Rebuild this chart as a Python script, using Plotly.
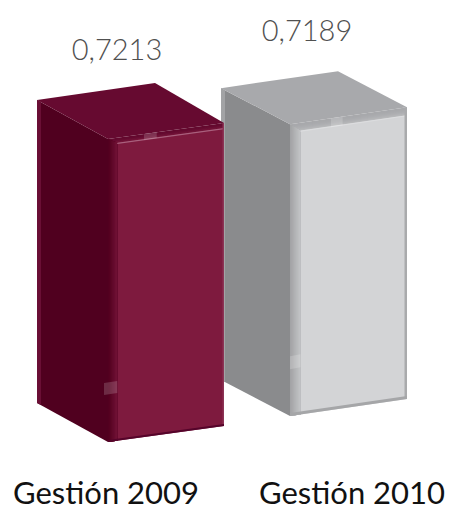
import plotly.graph_objects as go

categories = ["Gestión 2009", "Gestión 2010"]
values = [0.7213, 0.7189]
value_labels = ["0,7213", "0,7189"]

W, H, BOTTOM = 453, 512, 42
fig = go.Figure()


def mix(a, b, t):
    ca = [int(a[i:i + 2], 16) for i in (1, 3, 5)]
    cb = [int(b[i:i + 2], 16) for i in (1, 3, 5)]
    return "rgb(%d,%d,%d)" % tuple(round(x + (y - x) * t) for x, y in zip(ca, cb))


def lerp(p, q, t):
    return (p[0] + (q[0] - p[0]) * t, p[1] + (q[1] - p[1]) * t)


def poly(pts, color, opacity=1.0):
    fig.add_trace(go.Scatter(
        x=[p[0] for p in pts] + [pts[0][0]], y=[p[1] for p in pts] + [pts[0][1]],
        mode="lines", fill="toself", fillcolor=color, opacity=opacity,
        line=dict(width=0, color=color), hoverinfo="skip", showlegend=False))


def bar(value, scale, base, top_back_dy, st):
    """base: ground corners left, front, right; the height comes from the value."""
    h = value * scale
    L0, F0, R0 = base["L"], base["F"], base["R"]
    L1 = (L0[0], L0[1] - h)
    F1 = (F0[0], F0[1] - h)
    R1 = (R0[0], R0[1] - h)
    B1 = (base["Bx"], L1[1] + top_back_dy)

    bev = st["bevel"]          # width of the side bevel in px
    tb = st["top_bevel"]       # depth of the top bevel in px
    bb = st["bottom_bevel"]

    # left side and top
    poly([L1, F1, F0, L0], st["left"])
    poly([(L1[0], L1[1]), (L1[0] + 4, L1[1] + 2), (L0[0] + 4, L0[1] + 2), L0], st["left_edge"])
    poly([L1, B1, R1, F1], st["top"])

    # top bevel gradient, each band painted over the previous one
    n = 8
    for i in range(n):
        a = i / n
        poly([(F1[0], F1[1] + tb * a), (R1[0], R1[1] + tb * a),
              (R1[0], R1[1] + tb), (F1[0], F1[1] + tb)],
             mix(st["tbev_a"], st["tbev_b"], a ** 2))

    # front face below the top bevel
    poly([(F1[0], F1[1] + tb), (R1[0], R1[1] + tb), R0, F0], st["front"])

    # left bevel of the front face, painted the same way
    for i in range(n):
        a = i / n
        top_a, top_b = lerp(F1, R1, a * bev), lerp(F1, R1, bev)
        bot_a, bot_b = lerp(F0, R0, a * bev), lerp(F0, R0, bev)
        poly([(top_a[0], top_a[1] + tb * a), (top_b[0], top_b[1] + tb), bot_b, bot_a],
             mix(st["bev_a"], st["bev_b"], a))

    # bright hem and right / bottom bevel
    ha, hb = lerp(F1, R1, bev), R1
    poly([(ha[0], ha[1] + tb), (hb[0], hb[1] + tb), (hb[0], hb[1] + tb + 1.2), (ha[0], ha[1] + tb + 1.2)], st["hem"])
    poly([(R1[0] - st["rbev"], R1[1]), R1, R0, (R0[0] - st["rbev"], R0[1])], st["right_edge"])
    poly([(F0[0], F0[1] - bb), (R0[0], R0[1] - bb), R0, F0], st["bottom"])

    # translucent highlight patches
    u, w = st["patch_top"]
    pa, pb = lerp(F1, R1, u), lerp(F1, R1, u + w)
    poly([pa, pb, (pb[0], pb[1] + tb + 1), (pa[0], pa[1] + tb + 1)], "#ffffff", st["patch_op"])
    v, d = st["patch_left"]
    x0, x1 = F0[0] - st["patch_out"], F0[0] + bev * (R0[0] - F0[0])
    y_c = F0[1] - h * v
    poly([(x0, y_c), (x1, y_c - 2), (x1, y_c - 2 - d), (x0, y_c - d)], "#ffffff", st["patch_op"])
    return B1


gray = dict(left="#8a8b8d", left_edge="#a2a3a5", top="#a8a9ac", front="#d3d4d6",
            bev_a="#a3a4a6", bev_b="#c6c7c9", tbev_a="#a8a9ac", tbev_b="#bdbec0",
            hem="#dcdddf", right_edge="#a9aaac", bottom="#a5a6a8",
            bevel=0.09, top_bevel=8, bottom_bevel=3, rbev=2.5,
            patch_top=(0.35, 0.1), patch_left=(0.16, 13), patch_out=0,
            patch_op=0.18)
wine = dict(left="#50001f", left_edge="#6a0f35", top="#660a30", front="#7e1a3e",
            bev_a="#52001f", bev_b="#741438", tbev_a="#640a2f", tbev_b="#7b1a3e",
            hem="#a9607d", right_edge="#8c3355", bottom="#55042a",
            bevel=0.08, top_bevel=5, bottom_bevel=2, rbev=1.5,
            patch_top=(0.31, 0.11), patch_left=(0.155, 12), patch_out=4,
            patch_op=0.17)

top2 = bar(values[1], 406,
           dict(L=(221, 380), F=(290, 416), R=(407, 399), Bx=338), -17, gray)
top1 = bar(values[0], 420,
           dict(L=(37, 403), F=(108, 442), R=(224, 426), Bx=155), -17, wine)

fig.add_trace(go.Scatter(
    x=[117, 307], y=[top1[1] - 30, top2[1] - 37],
    text=value_labels, mode="text",
    textfont=dict(family="Lato", weight=300, size=29, color="#505050"),
    hoverinfo="skip", showlegend=False))

fig.update_layout(
    width=W, height=H, margin=dict(l=0, r=0, t=0, b=BOTTOM, autoexpand=False),
    paper_bgcolor="white", plot_bgcolor="white", showlegend=False,
    xaxis=dict(range=[0, W], showgrid=False, zeroline=False, showline=False,
               automargin=False, ticklabelstandoff=2,
               tickmode="array", tickvals=[106, 352], ticktext=categories,
               ticks="", tickfont=dict(family="Lato", size=31, color="#111111")),
    yaxis=dict(range=[H - BOTTOM, 0], showgrid=False, zeroline=False, showline=False,
               automargin=False, showticklabels=False),
)
fig.write_html("out.html", config=dict(displayModeBar=False),
               post_script="document.body.style.margin='0';")
